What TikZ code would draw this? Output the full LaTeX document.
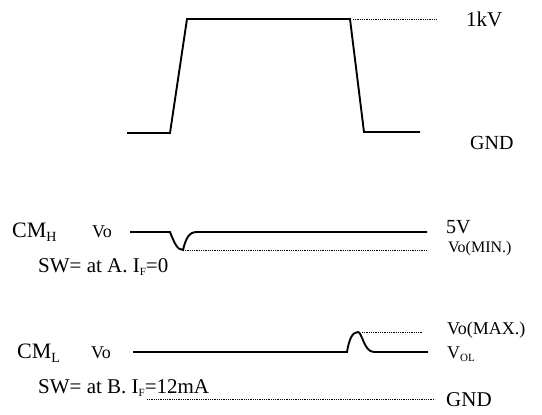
\documentclass[tikz,border=0pt]{standalone}
\usepackage{fontspec}
\setmainfont{Liberation Serif}
\newcommand{\fsz}[1]{\fontsize{#1}{#1}\selectfont}
\begin{document}
\begin{tikzpicture}[x=1pt,y=-1pt,
  wave/.style={line width=1.9pt, line join=miter},
  dots/.style={line width=0.9pt, dash pattern=on 0.9pt off 0.9pt},
  lbl/.style={anchor=west, inner sep=0pt},
  big/.style={lbl, font=\fsz{21}},
  mid/.style={lbl, font=\fsz{18}},
  sml/.style={lbl, font=\fsz{16}}]
\useasboundingbox (0,0) rectangle (542,415);
% top pulse
\coordinate (p0) at (127,133);
\coordinate (p1) at (170,133);
\coordinate (p2) at (187,19);
\coordinate (p3) at (350,19);
\coordinate (p4) at (364,132);
\coordinate (p5) at (420,132);
\coordinate (d1a) at (353,19);
\coordinate (d1b) at (437,19);
\draw[wave] (p0) -- (p1) -- (p2) -- (p3) -- (p4) -- (p5);
\draw[dots] (d1a) -- (d1b);
\node[big] (kv) at (466,19) {1kV};
\node[lbl, font=\fsz{20}] (gnd1) at (470,143) {GND};
% CM_H
\node[lbl, font=\fsz{22}] (cmh) at (12,232) {CM\raisebox{-0.35ex}{\fsz{14}H}};
\node[mid] (voh) at (92,232) {Vo};
\node[big] (swa) at (38,267) {SW= at A. I\raisebox{-0.3ex}{\fsz{11}F}=0};
\coordinate (h0) at (130,232);
\coordinate (h1) at (170,232);
\coordinate (h2) at (183,250);
\coordinate (h3) at (197,232);
\coordinate (h4) at (427,232);
\coordinate (hd) at (427,250);
\draw[wave] (h0) -- (h1) .. controls (174,242) and (177,250) .. (h2)
  .. controls (186,238) and (189,232) .. (h3) -- (h4);
\draw[dots] (h2) -- (hd);
\node[lbl, font=\fsz{20}] (v5) at (446,227) {5V};
\node[sml] (vmin) at (448,249) {Vo(MIN.)};
% CM_L
\node[lbl, font=\fsz{22}] (cml) at (17,353) {CM\raisebox{-0.35ex}{\fsz{14}L}};
\node[mid] (vol) at (91,353) {Vo};
\node[big] (swb) at (38,388) {SW= at B. I\raisebox{-0.3ex}{\fsz{11}F}=12mA};
\coordinate (l0) at (133,352);
\coordinate (l1) at (347,352);
\coordinate (l2) at (358,332);
\coordinate (l3) at (374,352);
\coordinate (l4) at (428,352);
\coordinate (ld1) at (362,332);
\coordinate (ld2) at (423,332);
\draw[wave] (l0) -- (l1) .. controls (349,340) and (352,332) .. (l2)
  .. controls (362,332) and (364,352) .. (l3) -- (l4);
\draw[dots] (ld1) -- (ld2);
\coordinate (g0) at (147,399);
\coordinate (g1) at (435,399);
\draw[dots] (g0) -- (g1);
\node[mid] (vmax) at (447,330) {Vo(MAX.)};
\node[mid] (vols) at (447,354) {V\raisebox{-0.3ex}{\fsz{11}OL}};
\node[big] (gnd2) at (446,400) {GND};
\end{tikzpicture}
\end{document}
